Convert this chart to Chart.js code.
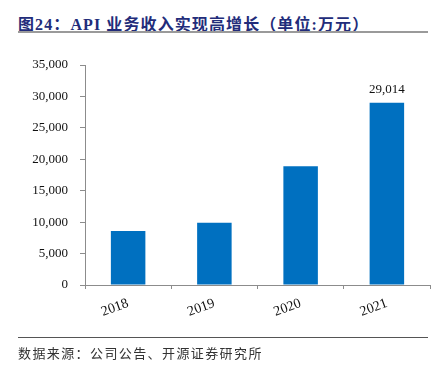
<!DOCTYPE html>
<html>
<head>
<meta charset="utf-8">
<script src="https://cdn.jsdelivr.net/npm/chart.js@4.4.1/dist/chart.umd.min.js"></script>
<style>
    html, body { margin: 0; padding: 0; background: #fff; }
    #wrap { position: relative; width: 439px; height: 373px; overflow: hidden; }
    #chart { position: absolute; left: 0; top: 0; }
    .title {
        position: absolute; left: 18px; top: 11px;
        font-family: 'Liberation Serif', 'Noto Sans CJK SC', serif;
        font-weight: bold; font-size: 16px; letter-spacing: 1.1px; color: #222c7a; white-space: nowrap;
    }
    .title-rule { position: absolute; left: 18px; top: 31px; width: 410px; height: 2px; background: #9a9a9a; }
    .foot-rule { position: absolute; left: 18px; top: 337px; width: 410px; height: 1px; background: #555; }
    .source {
        position: absolute; left: 18px; top: 343px;
        font-family: 'Noto Sans CJK SC', sans-serif; font-size: 13px; letter-spacing: 1.4px; color: #333; white-space: nowrap;
    }
</style>
</head>
<body>
<div id="wrap">
    <div class="title">图24：API 业务收入实现高增长（单位:万元）</div>
    <div class="title-rule"></div>
    <canvas id="chart" width="439" height="373"></canvas>
    <div class="foot-rule"></div>
    <div class="source">数据来源：公司公告、开源证券研究所</div>
</div>
<script>
    // Data
    const years = ['2018', '2019', '2020', '2021'];
    const apiRevenue = [8600, 9900, 18900, 29014];
    const labelledYears = ['2021'];

    const SERIF = "'Liberation Serif', 'Times New Roman', serif";
    const AXIS_GRAY = '#8c8c8c';

    // Value label above the last bar
    const valueLabels = {
        id: 'valueLabels',
        afterDatasetsDraw(chart) {
            const { ctx } = chart;
            const meta = chart.getDatasetMeta(0);
            ctx.save();
            ctx.font = `13px ${SERIF}`;
            ctx.fillStyle = '#111';
            ctx.textAlign = 'center';
            ctx.textBaseline = 'bottom';
            meta.data.forEach((bar, i) => {
                if (!labelledYears.includes(years[i])) return;
                ctx.fillText(apiRevenue[i].toLocaleString('en-US'), bar.x, bar.y - 7);
            });
            ctx.restore();
        },
    };

    new Chart(document.getElementById('chart'), {
        type: 'bar',
        data: {
            labels: years,
            datasets: [{
                data: apiRevenue,
                backgroundColor: '#0070c0',
                barPercentage: 0.4,
                categoryPercentage: 1,
            }],
        },
        options: {
            responsive: false,
            animation: false,
            layout: { padding: { left: 0, right: 9, top: 65, bottom: 38 } },
            plugins: { legend: { display: false }, tooltip: { enabled: false } },
            scales: {
                x: {
                    afterFit: (scale) => { scale.height = 50; },
                    border: { color: AXIS_GRAY, width: 1 },
                    grid: { offset: true, drawOnChartArea: false, drawTicks: true, tickLength: 4, color: AXIS_GRAY },
                    ticks: {
                        color: '#111',
                        font: { family: SERIF, size: 14 },
                        minRotation: 20,
                        maxRotation: 20,
                        padding: 6,
                    },
                },
                y: {
                    min: 0,
                    max: 35000,
                    afterFit: (scale) => { scale.width = 85; },
                    border: { color: AXIS_GRAY, width: 1 },
                    grid: { drawOnChartArea: false, drawTicks: true, tickLength: 5, color: AXIS_GRAY },
                    ticks: {
                        stepSize: 5000,
                        color: '#111',
                        padding: 12,
                        font: { family: SERIF, size: 13 },
                        callback: (v) => v.toLocaleString('en-US'),
                    },
                },
            },
        },
        plugins: [valueLabels],
    });
</script>
</body>
</html>
